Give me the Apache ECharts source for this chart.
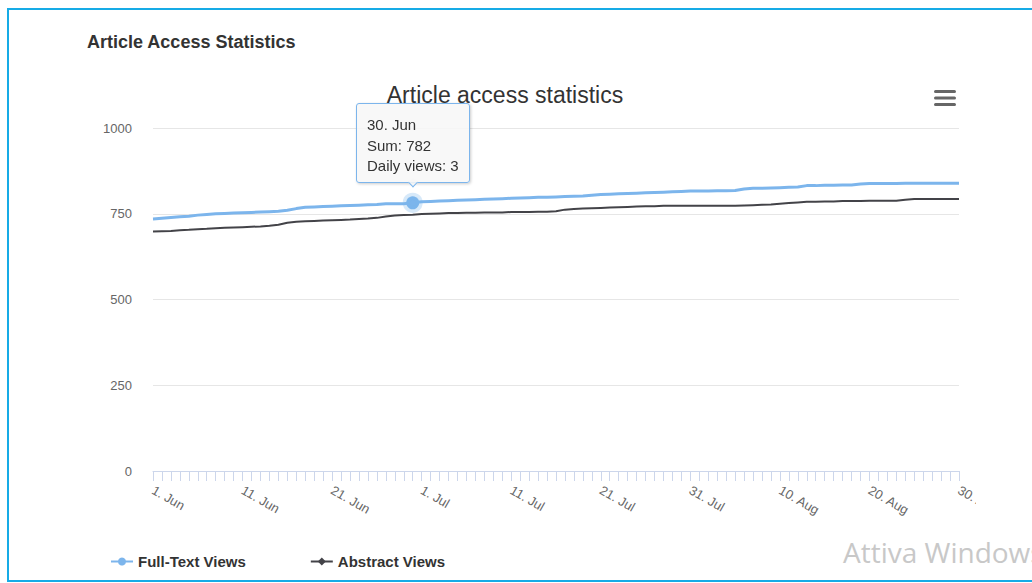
<!DOCTYPE html>
<html>
<head>
<meta charset="utf-8">
<script src="https://cdn.jsdelivr.net/npm/echarts@6/dist/echarts.min.js"></script>
<style>
html,body{margin:0;padding:0;background:#fff;width:1032px;height:583px;overflow:hidden;}
#frame{position:absolute;left:7px;top:8px;width:1100px;height:570px;border:2px solid #17abe6;}
#chart{position:absolute;left:0;top:0;width:976px;height:583px;overflow:hidden;}
#wm{position:absolute;left:843px;top:538px;font-family:"Open Sans",sans-serif;font-size:28px;line-height:28px;color:#c8c8c8;white-space:nowrap;}
</style>
</head>
<body>
<div id="frame"></div>
<div id="chart"></div>
<div id="wm">Attiva Windows</div>
<script>
const categories = [
  "1. Jun","2. Jun","3. Jun","4. Jun","5. Jun","6. Jun","7. Jun","8. Jun","9. Jun","10. Jun",
  "11. Jun","12. Jun","13. Jun","14. Jun","15. Jun","16. Jun","17. Jun","18. Jun","19. Jun","20. Jun",
  "21. Jun","22. Jun","23. Jun","24. Jun","25. Jun","26. Jun","27. Jun","28. Jun","29. Jun","30. Jun",
  "1. Jul","2. Jul","3. Jul","4. Jul","5. Jul","6. Jul","7. Jul","8. Jul","9. Jul","10. Jul",
  "11. Jul","12. Jul","13. Jul","14. Jul","15. Jul","16. Jul","17. Jul","18. Jul","19. Jul","20. Jul",
  "21. Jul","22. Jul","23. Jul","24. Jul","25. Jul","26. Jul","27. Jul","28. Jul","29. Jul","30. Jul",
  "31. Jul","1. Aug","2. Aug","3. Aug","4. Aug","5. Aug","6. Aug","7. Aug","8. Aug","9. Aug",
  "10. Aug","11. Aug","12. Aug","13. Aug","14. Aug","15. Aug","16. Aug","17. Aug","18. Aug","19. Aug",
  "20. Aug","21. Aug","22. Aug","23. Aug","24. Aug","25. Aug","26. Aug","27. Aug","28. Aug","29. Aug",
  "30. Aug"
];
const fullTextViews = [
  735,737,739,741,743,746,748,750,751,752,
  753,754,755,756,757,760,765,769,770,771,
  772,773,774,775,776,777,779,779,779,782,
  785,786,787,788,789,790,791,792,793,794,
  795,796,797,798,798,799,800,801,802,804,
  806,807,808,809,810,811,812,813,814,815,
  816,816,816,817,817,818,822,824,824,825,
  826,827,828,832,832,833,833,834,834,837,
  838,838,838,838,839,839,839,839,839,839,
  839
];
const abstractViews = [
  698,699,700,702,703,705,706,708,709,710,
  711,712,713,715,718,724,727,728,729,730,
  731,732,733,735,736,738,742,745,746,747,
  749,750,751,752,752,753,753,754,754,754,
  755,755,755,756,756,757,762,764,765,766,
  767,768,769,770,771,772,772,773,773,773,
  773,773,773,773,773,773,774,775,776,777,
  779,781,783,785,785,786,786,787,787,787,
  788,788,788,788,791,793,793,793,793,793,
  793
];
const yTicks = [0, 250, 500, 750, 1000];
const seriesNames = ["Full-Text Views", "Abstract Views"];
const tooltipIndex = 29;

const FONT = '"Liberation Sans", Arial, sans-serif';
const chart = echarts.init(document.getElementById('chart'), null, {renderer: 'svg'});

const option = {
  animation: false,
  textStyle: {fontFamily: FONT},
  title: [
    {text: 'Article Access Statistics', left: 82, top: 28,
     textStyle: {fontSize: 18, fontWeight: 'bold', color: '#333', fontFamily: FONT}},
    {text: 'Article access statistics', left: 500, top: 78, textAlign: 'center',
     textStyle: {fontSize: 23, fontWeight: 'normal', color: '#333', fontFamily: FONT}}
  ],
  grid: {left: 153, right: 17, top: 128, bottom: 112, containLabel: false, outerBoundsMode: 'none'},
  xAxis: {
    type: 'category', data: categories, boundaryGap: false,
    axisLine: {lineStyle: {color: '#ccd6eb', width: 1}},
    axisTick: {show: true, interval: 0, length: 10, lineStyle: {color: '#ccd6eb'}},
    axisLabel: {interval: 9, rotate: -30, margin: 18,
                color: '#666', fontSize: 13, fontFamily: FONT}
  },
  yAxis: {
    type: 'value', min: yTicks[0], max: yTicks[yTicks.length - 1], interval: yTicks[1] - yTicks[0],
    axisLine: {show: false}, axisTick: {show: false},
    axisLabel: {color: '#666', fontSize: 13, margin: 21, fontFamily: FONT,
                formatter: function (v) { return String(v); }},
    splitLine: {lineStyle: {color: '#e6e6e6', width: 1}}
  },
  legend: {
    left: 105, top: 549, itemWidth: 22, itemHeight: 10, itemGap: 64,
    data: seriesNames,
    textStyle: {fontSize: 15, fontWeight: 'bold', color: '#333', fontFamily: FONT}
  },
  tooltip: {
    trigger: 'item', triggerOn: 'none', alwaysShowContent: true, position: 'top',
    transitionDuration: 0,
    backgroundColor: 'rgba(247,247,247,0.85)', borderColor: '#7cb5ec', borderWidth: 1,
    padding: [11, 10, 5, 10],
    textStyle: {color: '#333', fontSize: 15, fontFamily: FONT, lineHeight: 20},
    extraCssText: 'box-shadow:1px 1px 3px rgba(0,0,0,0.2);border-radius:3px;line-height:20.5px;',
    formatter: function (p) {
      const i = p.dataIndex;
      const daily = i > 0 ? fullTextViews[i] - fullTextViews[i - 1] : fullTextViews[i];
      return categories[i] + '<br/>Sum: ' + fullTextViews[i] + '<br/>Daily views: ' + daily;
    }
  },
  graphic: [{
    type: 'group', left: 934, top: 90,
    children: [
      {type: 'rect', shape: {x: 0, y: 0, width: 22, height: 3, r: 1.5}, style: {fill: '#666'}},
      {type: 'rect', shape: {x: 0, y: 6.5, width: 22, height: 3, r: 1.5}, style: {fill: '#666'}},
      {type: 'rect', shape: {x: 0, y: 13, width: 22, height: 3, r: 1.5}, style: {fill: '#666'}}
    ]
  }],
  series: [
    {
      name: seriesNames[0], type: 'line',
      data: fullTextViews.map(function (v, i) {
        return i === tooltipIndex
          ? {value: v, symbol: 'circle', symbolSize: 13,
             itemStyle: {color: '#7cb5ec', borderColor: 'rgba(124,181,236,0.3)', borderWidth: 7}}
          : {value: v, symbol: 'none'};
      }),
      symbol: 'circle', symbolSize: 8, showSymbol: true, showAllSymbol: true,
      lineStyle: {color: '#7cb5ec', width: 3}, itemStyle: {color: '#7cb5ec'},
      emphasis: {disabled: true}, z: 3
    },
    {
      name: seriesNames[1], type: 'line', data: abstractViews,
      symbol: 'diamond', symbolSize: 8, showSymbol: false,
      lineStyle: {color: '#434348', width: 2}, itemStyle: {color: '#434348'},
      emphasis: {disabled: true}, z: 2
    }
  ]
};
chart.setOption(option);
chart.dispatchAction({type: 'showTip', seriesIndex: 0, dataIndex: tooltipIndex});
</script>
</body>
</html>
